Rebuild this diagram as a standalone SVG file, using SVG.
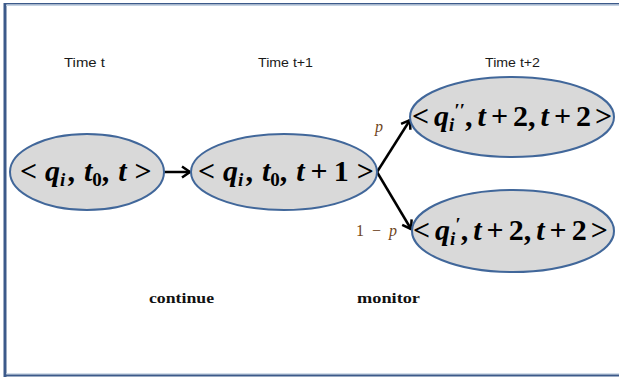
<svg xmlns="http://www.w3.org/2000/svg" width="619" height="381" viewBox="0 0 619 381">
<style>
.node{fill:#d9d9d9;stroke:#41679a;stroke-width:2}
.math{font-family:"Liberation Serif","DejaVu Serif",serif;font-size:30px;font-weight:bold;fill:#000}
.it{font-style:italic}
.sub{font-size:19px;font-style:italic}
.time{font-family:"Liberation Sans",Arial,sans-serif;font-size:12.5px;fill:#1a1a1a}
.lbl{font-family:"Liberation Serif","DejaVu Serif",serif;font-size:16px;fill:#6e4420}
.bold{font-family:"Liberation Serif","DejaVu Serif",serif;font-size:14px;font-weight:bold;fill:#111}
.edge{stroke:#000;stroke-width:2.5;fill:none}
</style>
<defs>
<marker id="arr" markerUnits="userSpaceOnUse" markerWidth="14" markerHeight="14" refX="11" refY="7" orient="auto">
<path d="M3,1.5 L11,7 L3,12.5" fill="none" stroke="#000" stroke-width="2.5"/>
</marker>
</defs>
<rect width="619" height="381" fill="#fff"/>
<g id="frame">
<line x1="5" y1="3" x2="5" y2="377" stroke="#3c5a8a" stroke-width="3"/>
<line x1="4" y1="3.8" x2="619" y2="3.8" stroke="#3c5a8a" stroke-width="1.6"/>
<line x1="6" y1="5.3" x2="619" y2="5.3" stroke="#c5d3e3" stroke-width="1.2"/>
<line x1="6" y1="373.8" x2="619" y2="373.8" stroke="#c5d3e3" stroke-width="1.2"/>
<line x1="4" y1="375.6" x2="619" y2="375.6" stroke="#3c5a8a" stroke-width="2"/>
</g>
<g id="labels">
<text class="time" x="64" y="67" textLength="41" lengthAdjust="spacingAndGlyphs">Time t</text>
<text class="time" x="258" y="67" textLength="55" lengthAdjust="spacingAndGlyphs">Time t+1</text>
<text class="time" x="485" y="67" textLength="55" lengthAdjust="spacingAndGlyphs">Time t+2</text>
<text class="bold" x="149" y="303" textLength="65" lengthAdjust="spacingAndGlyphs">continue</text>
<text class="bold" x="357" y="303" textLength="63" lengthAdjust="spacingAndGlyphs">monitor</text>
</g>
<g id="connectors">
<line class="edge" x1="164" y1="172" x2="190" y2="172" marker-end="url(#arr)"/>
<line class="edge" x1="377" y1="172" x2="410" y2="120" marker-end="url(#arr)"/>
<line class="edge" x1="377" y1="172" x2="411" y2="229" marker-end="url(#arr)"/>
<text class="lbl" x="375" y="132" font-style="italic">p</text>
<text class="lbl" x="356" y="236" textLength="41" lengthAdjust="spacing"><tspan>1 − </tspan><tspan font-style="italic">p</tspan></text>
</g>
<g id="n1">
<ellipse class="node" cx="87" cy="172" rx="77" ry="38"/>
<text class="math" x="20" y="181">&lt;<tspan class="it" dx="8">q</tspan><tspan class="sub" dy="5">i</tspan><tspan dx="2" dy="-5">,</tspan><tspan class="it" dx="9">t</tspan><tspan font-size="19" dy="5">0</tspan><tspan dy="-5">,</tspan><tspan class="it" dx="9">t</tspan><tspan dx="8">&gt;</tspan></text>
</g>
<g id="n2">
<ellipse class="node" cx="284" cy="172" rx="93" ry="38"/>
<text class="math" x="198" y="181">&lt;<tspan class="it" dx="8">q</tspan><tspan class="sub" dy="5">i</tspan><tspan dx="2" dy="-5">,</tspan><tspan class="it" dx="9">t</tspan><tspan font-size="19" dy="5">0</tspan><tspan dy="-5">,</tspan><tspan class="it" dx="9">t</tspan><tspan dx="6">+</tspan><tspan dx="6">1</tspan><tspan dx="8">&gt;</tspan></text>
</g>
<g id="n3">
<ellipse class="node" cx="512" cy="117" rx="102" ry="40"/>
<text class="math" x="412" y="126">&lt;<tspan class="it" dx="5">q</tspan><tspan class="sub" dy="5">i</tspan><tspan font-size="19" dx="0" dy="-14">′′</tspan><tspan dy="9">,</tspan><tspan class="it" dx="5">t</tspan><tspan dx="5">+</tspan><tspan dx="5">2,</tspan><tspan class="it" dx="5">t</tspan><tspan dx="5">+</tspan><tspan dx="5">2</tspan><tspan dx="4">&gt;</tspan></text>
</g>
<g id="n4">
<ellipse class="node" cx="513" cy="231" rx="101" ry="41"/>
<text class="math" x="413" y="240">&lt;<tspan class="it" dx="5">q</tspan><tspan class="sub" dy="5">i</tspan><tspan font-size="19" dx="0" dy="-14">′</tspan><tspan dy="9">,</tspan><tspan class="it" dx="5">t</tspan><tspan dx="5">+</tspan><tspan dx="5">2,</tspan><tspan class="it" dx="5">t</tspan><tspan dx="5">+</tspan><tspan dx="5">2</tspan><tspan dx="4">&gt;</tspan></text>
</g>
</svg>
